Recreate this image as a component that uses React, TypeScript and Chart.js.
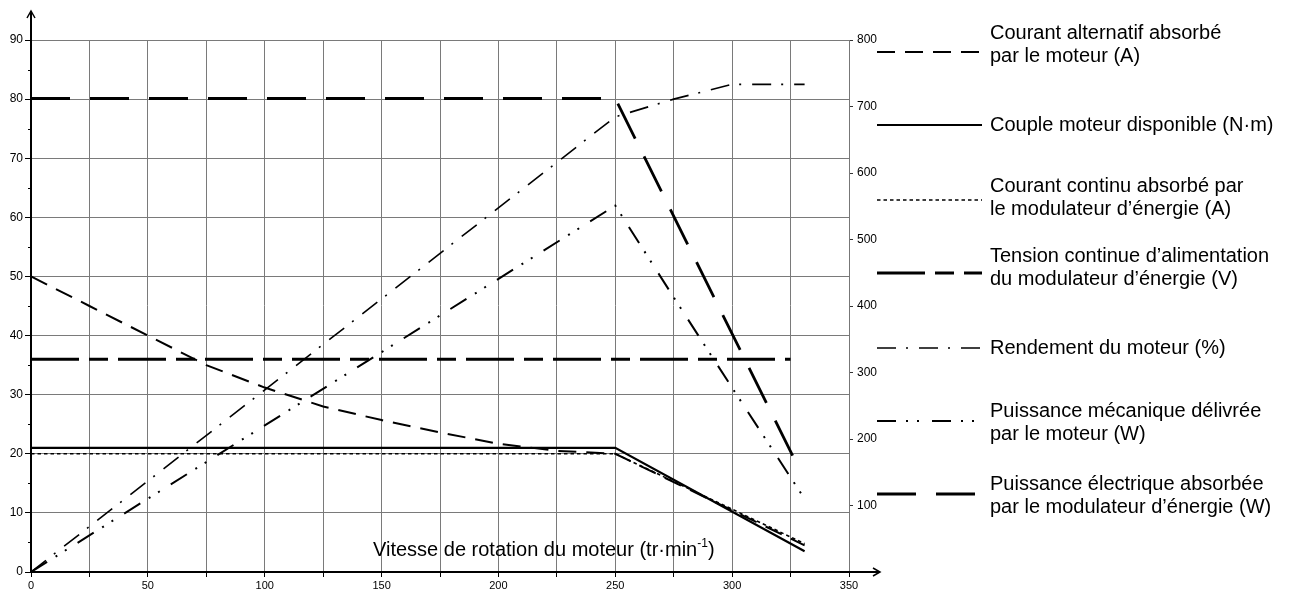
import React, { useEffect, useRef } from 'react';
import { Chart, registerables } from 'chart.js';

Chart.register(...registerables);

const FONT = '"Liberation Sans", Arial, Helvetica, sans-serif';

// ---- Data (x = vitesse de rotation, tr/min) ----
const speedAC = [0, 25, 50, 75, 100, 125, 150, 175, 200, 225, 250, 331];
const courantAlternatif = [50, 45, 40, 35, 31.2, 28, 25.7, 23.6, 21.7, 20.5, 20, 4.5];

const speedCouple = [0, 250, 331];
const couple = [21, 21, 3.5];

const speedCC = [0, 250, 331];
const courantContinu = [20, 20, 4.8];

const speedTension = [0, 325];
const tension = [36, 36];

const speedRendement = [0, 250, 275, 300, 325, 331];
const rendement = [0, 77, 80, 82.5, 82.5, 82.5];

const speedPmec = [0, 250, 275, 300, 331];
const puissanceMeca = [0, 551, 413, 277, 110];

const speedPelec = [0, 250, 328];
const puissanceElec = [712, 712, 160];

// ---- Axes ----
const xMin = 0;
const xMax = 350;
const xStep = 25;
const xLabelEvery = 50;
const leftMax = 90;
const leftStep = 10;
const rightMax = 800;
const rightStep = 100;

const axisTitle = ['Vitesse de rotation du moteur (tr·min', '-1', ')'];

const legendLabels: string[][] = [
  ['Courant alternatif absorbé', 'par le moteur (A)'],
  ['Couple moteur disponible (N·m)'],
  ['Courant continu absorbé par', 'le modulateur d’énergie (A)'],
  ['Tension continue d’alimentation', 'du modulateur d’énergie (V)'],
  ['Rendement du moteur (%)'],
  ['Puissance mécanique délivrée', 'par le moteur (W)'],
  ['Puissance électrique absorbée', 'par le modulateur d’énergie (W)'],
];

// ---- Styles ----
const styles = [
  { dash: [18, 10], width: 2 },
  { dash: [], width: 2.2 },
  { dash: [3.5, 3], width: 1.6 },
  { dash: [48, 10, 19, 10], width: 3 },
  { dash: [19, 10, 2, 11], width: 1.6 },
  { dash: [19, 10, 2, 9, 2, 13], width: 2 },
  { dash: [39, 20], width: 2.8 },
];
const legendSampleY = [52, 125, 200, 273, 348, 421, 494];
const legendBaseline = [39, 131, 192, 262, 354, 417, 490];
const legendLineGap = 23;
const legendSampleX0 = 877;
const legendSampleX1 = 982;
const legendTextX = 990;

const pts = (xs: number[], ys: number[]) => xs.map((x, i) => ({ x, y: ys[i] }));

const decorPlugin = {
  id: 'decor',
  afterDraw(chart: any) {
    const { ctx, chartArea, scales } = chart;
    const xs = scales.x;
    const ys = scales.y;
    const x0 = xs.getPixelForValue(0);
    const y0 = ys.getPixelForValue(0);
    ctx.save();
    ctx.strokeStyle = '#000';
    ctx.fillStyle = '#000';
    ctx.setLineDash([]);
    // y axis extension + arrow
    ctx.lineWidth = 2;
    ctx.beginPath();
    ctx.moveTo(x0, chartArea.top);
    ctx.lineTo(x0, 11);
    ctx.stroke();
    ctx.lineWidth = 1.5;
    ctx.beginPath();
    ctx.moveTo(x0 - 4, 18);
    ctx.lineTo(x0, 11);
    ctx.lineTo(x0 + 4, 18);
    ctx.stroke();
    // x axis extension + arrow
    ctx.lineWidth = 2;
    ctx.beginPath();
    ctx.moveTo(chartArea.right, y0);
    ctx.lineTo(880, y0);
    ctx.stroke();
    ctx.lineWidth = 1.5;
    ctx.beginPath();
    ctx.moveTo(873, y0 - 4);
    ctx.lineTo(880, y0);
    ctx.lineTo(873, y0 + 4);
    ctx.stroke();
    // minor ticks on left axis
    ctx.lineWidth = 1;
    for (let v = leftStep / 2; v < leftMax; v += leftStep) {
      const py = Math.round(ys.getPixelForValue(v)) + 0.5;
      ctx.beginPath();
      ctx.moveTo(x0 - 3, py);
      ctx.lineTo(x0, py);
      ctx.stroke();
    }
    // axis title inside plot
    ctx.font = `20px ${FONT}`;
    ctx.textBaseline = 'alphabetic';
    ctx.textAlign = 'left';
    let tx = 373;
    const ty = 556;
    ctx.fillText(axisTitle[0], tx, ty);
    tx += ctx.measureText(axisTitle[0]).width;
    ctx.font = `12px ${FONT}`;
    ctx.fillText(axisTitle[1], tx, ty - 9);
    tx += ctx.measureText(axisTitle[1]).width;
    ctx.font = `20px ${FONT}`;
    ctx.fillText(axisTitle[2], tx, ty);
    // legend
    legendLabels.forEach((lines, i) => {
      const st = styles[i];
      ctx.save();
      ctx.beginPath();
      ctx.rect(legendSampleX0, legendSampleY[i] - 5, legendSampleX1 - legendSampleX0, 10);
      ctx.clip();
      ctx.lineWidth = st.width;
      ctx.setLineDash(st.dash);
      ctx.lineCap = 'butt';
      ctx.beginPath();
      ctx.moveTo(legendSampleX0, legendSampleY[i]);
      ctx.lineTo(legendSampleX1 + 40, legendSampleY[i]);
      ctx.stroke();
      ctx.restore();
      ctx.font = `20px ${FONT}`;
      ctx.fillStyle = '#000';
      lines.forEach((t, j) => {
        ctx.fillText(t, legendTextX, legendBaseline[i] + j * legendLineGap);
      });
    });
    ctx.restore();
  },
};

export default function App() {
  const ref = useRef<HTMLCanvasElement>(null);
  useEffect(() => {
    if (!ref.current) return;
    Chart.defaults.font.family = FONT;
    Chart.defaults.color = '#000';
    const mk = (label: string, data: any[], i: number, axis: string) => ({
      label,
      data,
      yAxisID: axis,
      borderColor: '#000',
      backgroundColor: '#000',
      borderWidth: styles[i].width,
      borderDash: styles[i].dash,
      pointRadius: 0,
      fill: false,
      tension: 0,
    });
    const chart = new Chart(ref.current, {
      type: 'line',
      data: {
        datasets: [
          mk(legendLabels[0].join(' '), pts(speedAC, courantAlternatif), 0, 'y'),
          mk(legendLabels[1].join(' '), pts(speedCouple, couple), 1, 'y'),
          mk(legendLabels[2].join(' '), pts(speedCC, courantContinu), 2, 'y'),
          mk(legendLabels[3].join(' '), pts(speedTension, tension), 3, 'y'),
          mk(legendLabels[4].join(' '), pts(speedRendement, rendement), 4, 'y'),
          mk(legendLabels[5].join(' '), pts(speedPmec, puissanceMeca), 5, 'y2'),
          mk(legendLabels[6].join(' '), pts(speedPelec, puissanceElec), 6, 'y2'),
        ],
      },
      options: {
        responsive: false,
        animation: false,
        devicePixelRatio: 1,
        layout: { padding: { left: 0, top: 40, right: 402, bottom: 0 } },
        plugins: { legend: { display: false }, tooltip: { enabled: false } },
        scales: {
          x: {
            type: 'linear',
            min: xMin,
            max: xMax,
            afterFit: (s: any) => { s.height = 20; },
            ticks: {
              stepSize: xStep,
              autoSkip: false,
              maxRotation: 0,
              padding: 2,
              font: { size: 11 },
              callback: (v: any) => (Number(v) % xLabelEvery === 0 ? String(v) : ''),
            },
            grid: {
              color: '#7a7a7a',
              lineWidth: 1,
              borderDash: [2, 1],
              tickLength: 5,
              tickColor: '#000',
              tickBorderDash: [],
            },
            border: { display: true, color: '#000', width: 2 },
          },
          y: {
            position: 'left',
            min: 0,
            max: leftMax,
            afterFit: (s: any) => { s.width = 31; },
            ticks: { stepSize: leftStep, padding: 2, font: { size: 12 } },
            grid: {
              color: '#7a7a7a',
              lineWidth: 1,
              borderDash: [2, 1],
              tickLength: 6,
              tickColor: '#000',
              tickBorderDash: [],
            },
            border: { display: true, color: '#000', width: 2 },
          },
          y2: {
            position: 'right',
            min: 0,
            max: rightMax,
            afterFit: (s: any) => { s.width = 40; },
            ticks: {
              stepSize: rightStep,
              padding: 4,
              font: { size: 12 },
              callback: (v: any) => (Number(v) === 0 ? '' : String(v)),
            },
            grid: {
              drawOnChartArea: false,
              tickLength: 4,
              tickColor: '#333',
              lineWidth: 1,
            },
            border: { display: true, color: '#777', width: 1, dash: [2, 2] },
          },
        },
      },
      plugins: [decorPlugin],
    } as any);
    return () => chart.destroy();
  }, []);
  return (
    <div style={{ position: 'fixed', left: 0, top: 0, width: 1291, height: 592, background: '#fff' }}>
      <canvas ref={ref} width={1291} height={592} />
    </div>
  );
}
